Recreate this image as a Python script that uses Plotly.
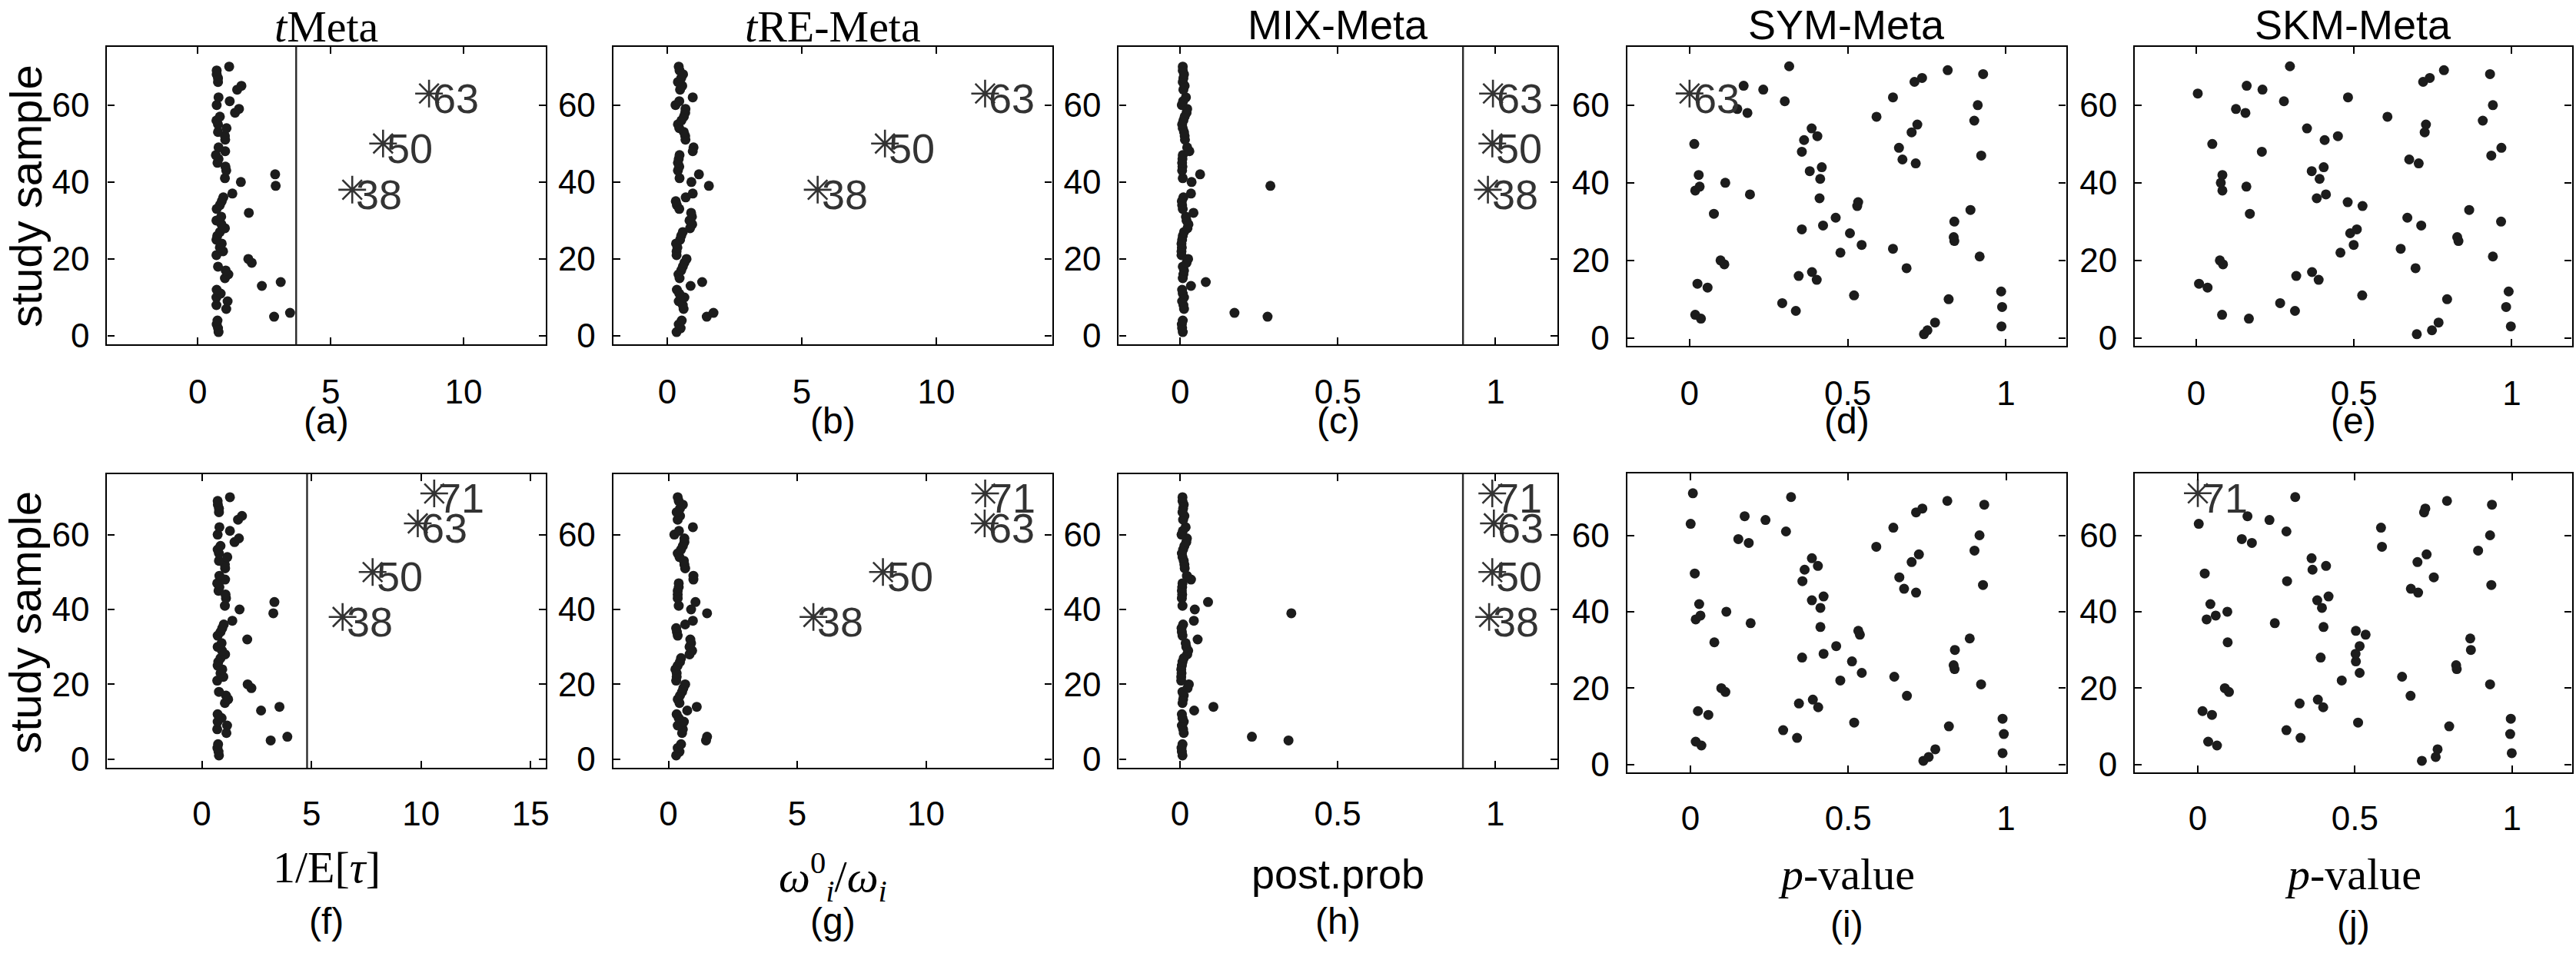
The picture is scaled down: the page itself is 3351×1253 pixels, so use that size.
import plotly.graph_objects as go

W, H = 3351, 1253

# ---------------- data ----------------
samples_top = list(range(1, 71))
samples_bot = list(range(1, 72))

tmeta_a = [0.78, 0.76, 0.71, 0.74, 2.87, 3.47, 1.07, 0.70, 1.12, 0.70,
           0.86, 0.71, 2.41, 3.12, 1.02, 1.15, 1.05, 0.76, 2.03, 1.90,
           0.70, 0.95, 0.83, 0.90, 0.70, 0.73, 0.83, 1.02, 0.89, 0.70,
           0.88, 1.92, 0.71, 0.83, 0.90, 0.96, 1.30, 5.81, 2.93, 1.62,
           1.02, 2.91, 1.07, 1.04, 0.74, 0.78, 0.68, 1.03, 0.78, 6.97,
           1.03, 1.02, 0.76, 1.08, 0.76, 0.70, 0.83, 1.40, 1.55, 0.71,
           1.20, 0.78, 8.70, 1.48, 1.64, 0.76, 0.76, 0.71, 0.71, 1.18]

tre_b = [0.35, 0.50, 0.43, 0.54, 1.47, 1.72, 0.61, 0.58, 0.43, 0.64,
         0.45, 0.36, 0.87, 1.30, 0.46, 0.42, 0.52, 0.58, 0.64, 0.72,
         0.35, 0.35, 0.38, 0.33, 0.48, 0.52, 0.58, 0.85, 0.93, 0.83,
         0.92, 0.89, 0.45, 0.36, 0.32, 0.69, 0.95, 5.59, 1.55, 0.90,
         0.46, 1.18, 0.40, 0.45, 0.40, 0.43, 0.46, 0.95, 0.98, 8.09,
         0.68, 0.67, 0.62, 0.45, 0.40, 0.53, 0.62, 0.67, 0.68, 0.31,
         0.45, 0.95, 11.81, 0.48, 0.56, 0.40, 0.52, 0.59, 0.46, 0.43]

mix_c = [0.008, 0.006, 0.005, 0.008, 0.277, 0.172, 0.012, 0.010, 0.006, 0.012,
         0.008, 0.006, 0.034, 0.081, 0.008, 0.010, 0.012, 0.008, 0.020, 0.025,
         0.004, 0.004, 0.005, 0.004, 0.006, 0.008, 0.012, 0.023, 0.026, 0.020,
         0.018, 0.042, 0.008, 0.006, 0.005, 0.010, 0.034, 0.976, 0.286, 0.036,
         0.008, 0.063, 0.006, 0.007, 0.006, 0.007, 0.008, 0.029, 0.022, 0.990,
         0.015, 0.014, 0.012, 0.008, 0.006, 0.010, 0.014, 0.020, 0.022, 0.005,
         0.009, 0.018, 0.992, 0.010, 0.014, 0.008, 0.010, 0.012, 0.008, 0.008]

sym_d = [0.741, 0.752, 0.986, 0.776, 0.036, 0.018, 0.336, 0.988, 0.293, 0.819,
         0.520, 0.985, 0.057, 0.025, 0.402, 0.345, 0.387, 0.686, 0.110, 0.098,
         0.917, 0.477, 0.643, 0.544, 0.837, 0.835, 0.507, 0.355, 0.422, 0.837,
         0.462, 0.077, 0.888, 0.530, 0.533, 0.411, 0.191, 0.018, 0.032, 0.113,
         0.413, 0.029, 0.380, 0.418, 0.715, 0.673, 0.922, 0.355, 0.662, 0.015,
         0.362, 0.404, 0.702, 0.386, 0.720, 0.900, 0.591, 0.183, 0.151, 0.911,
         0.301, 0.643, 0.000, 0.233, 0.171, 0.711, 0.735, 0.928, 0.816, 0.315]

skm_e = [0.699, 0.747, 0.997, 0.768, 0.167, 0.082, 0.313, 0.982, 0.266, 0.795,
         0.526, 0.990, 0.036, 0.009, 0.388, 0.317, 0.367, 0.695, 0.085, 0.075,
         0.940, 0.457, 0.648, 0.499, 0.831, 0.827, 0.488, 0.509, 0.713, 0.966,
         0.669, 0.170, 0.865, 0.527, 0.480, 0.382, 0.411, 0.083, 0.159, 0.078,
         0.391, 0.083, 0.366, 0.404, 0.705, 0.675, 0.935, 0.208, 0.967, 0.051,
         0.407, 0.449, 0.724, 0.351, 0.728, 0.908, 0.606, 0.156, 0.126, 0.940,
         0.278, 0.481, 0.005, 0.210, 0.160, 0.719, 0.740, 0.931, 0.785, 0.297]

tmeta_f = [0.78, 0.76, 0.71, 0.74, 3.14, 3.90, 1.12, 0.70, 1.15, 0.72,
           0.90, 0.72, 2.70, 3.54, 1.05, 1.20, 1.10, 0.78, 2.26, 2.09,
           0.70, 0.98, 0.85, 0.93, 0.72, 0.75, 0.85, 1.06, 0.92, 0.72,
           0.90, 2.07, 0.72, 0.85, 0.93, 1.00, 1.39, 6.42, 3.26, 1.72,
           1.05, 3.31, 1.10, 1.08, 0.76, 0.80, 0.70, 1.06, 0.80, 7.79,
           1.06, 1.05, 0.78, 1.16, 0.78, 0.72, 0.85, 1.49, 1.69, 0.72,
           1.28, 0.80, 9.85, 1.65, 1.83, 0.78, 0.78, 0.73, 0.72, 1.28,
           10.60]

tre_g = [0.30, 0.43, 0.36, 0.49, 1.46, 1.50, 0.53, 0.56, 0.36, 0.60,
         0.40, 0.32, 0.73, 1.10, 0.43, 0.36, 0.45, 0.53, 0.58, 0.65,
         0.30, 0.32, 0.32, 0.27, 0.36, 0.45, 0.49, 0.82, 0.92, 0.82,
         0.88, 0.85, 0.36, 0.33, 0.30, 0.65, 0.95, 5.63, 1.50, 0.88,
         0.40, 1.05, 0.36, 0.36, 0.36, 0.40, 0.40, 0.97, 0.97, 8.33,
         0.65, 0.62, 0.60, 0.43, 0.36, 0.49, 0.56, 0.62, 0.62, 0.23,
         0.41, 0.95, 12.28, 0.36, 0.45, 0.32, 0.45, 0.56, 0.40, 0.36,
         12.30]

mix_h = [0.008, 0.006, 0.005, 0.008, 0.344, 0.228, 0.012, 0.010, 0.006, 0.012,
         0.008, 0.006, 0.045, 0.106, 0.008, 0.010, 0.012, 0.008, 0.024, 0.028,
         0.004, 0.004, 0.005, 0.004, 0.006, 0.008, 0.012, 0.023, 0.026, 0.020,
         0.018, 0.056, 0.008, 0.006, 0.005, 0.010, 0.044, 0.980, 0.353, 0.047,
         0.008, 0.089, 0.006, 0.007, 0.006, 0.007, 0.008, 0.035, 0.022, 0.990,
         0.015, 0.014, 0.012, 0.008, 0.006, 0.010, 0.014, 0.020, 0.022, 0.005,
         0.009, 0.018, 0.995, 0.010, 0.014, 0.008, 0.010, 0.012, 0.008, 0.008,
         0.990]

sym_i = [0.738, 0.755, 0.989, 0.776, 0.035, 0.017, 0.338, 0.993, 0.294, 0.819,
         0.519, 0.989, 0.057, 0.024, 0.405, 0.344, 0.388, 0.686, 0.111, 0.098,
         0.921, 0.475, 0.646, 0.543, 0.837, 0.834, 0.512, 0.354, 0.422, 0.838,
         0.462, 0.076, 0.885, 0.537, 0.532, 0.412, 0.191, 0.017, 0.032, 0.114,
         0.412, 0.028, 0.385, 0.422, 0.715, 0.677, 0.927, 0.355, 0.662, 0.014,
         0.362, 0.404, 0.701, 0.385, 0.724, 0.900, 0.589, 0.185, 0.152, 0.916,
         0.303, 0.643, 0.001, 0.238, 0.172, 0.715, 0.735, 0.931, 0.814, 0.319,
         0.008]

skm_j = [0.713, 0.757, 0.999, 0.763, 0.061, 0.033, 0.327, 0.994, 0.282, 0.800,
         0.510, 0.996, 0.045, 0.015, 0.399, 0.324, 0.382, 0.677, 0.099, 0.086,
         0.930, 0.458, 0.650, 0.515, 0.824, 0.822, 0.503, 0.391, 0.502, 0.869,
         0.515, 0.095, 0.867, 0.534, 0.503, 0.400, 0.245, 0.028, 0.057, 0.094,
         0.395, 0.040, 0.380, 0.416, 0.701, 0.678, 0.934, 0.284, 0.751, 0.022,
         0.365, 0.408, 0.699, 0.362, 0.728, 0.892, 0.586, 0.172, 0.140, 0.930,
         0.282, 0.583, 0.003, 0.228, 0.158, 0.720, 0.724, 0.936, 0.793, 0.310,
         0.000]

outliers_a = [38, 50, 63]
outliers_b = [38, 50, 63]
outliers_c = [38, 50, 63]
outliers_d = [63]
outliers_e = []
outliers_f = [38, 50, 63, 71]
outliers_g = [38, 50, 63, 71]
outliers_h = [38, 50, 63, 71]
outliers_i = []
outliers_j = [71]

threshold_a = 3.70
threshold_c = 0.897
threshold_f = 4.80
threshold_h = 0.897

titles = ["<i>t</i>Meta", "<i>t</i>RE-Meta", "MIX-Meta", "SYM-Meta", "SKM-Meta"]
title_serif = [True, True, False, False, False]
panel_tags = ["(a)", "(b)", "(c)", "(d)", "(e)", "(f)", "(g)", "(h)", "(i)", "(j)"]
xlabels = ["1/E[<i>τ</i>]", "<i>ω</i><sup>0</sup><sub><i>i</i></sub>/<i>ω</i><sub><i>i</i></sub>",
           "post.prob", "<i>p</i>-value", "<i>p</i>-value"]
xlabel_serif = [True, True, False, True, True]
ytick_vals = [0, 20, 40, 60]
xtick_big = [0, 5, 10]
xtick_big15 = [0, 5, 10, 15]
xtick_unit = [0, 0.5, 1]
xtick_unit_text = ["0", "0.5", "1"]

# ---------------- layout geometry (pixels) ----------------
SANS = "Liberation Sans, Arial, Helvetica, sans-serif"
SERIF = "Liberation Serif, Times New Roman, DejaVu Serif, serif"
DOT = "#1c1c1c"
STAR = "#333333"

col_left = [139.6, 798.8, 1457.1, 2119.3, 2780.6]
col_w = 571.5
row_top = [[61.3] * 5, [623.7, 623.7, 623.7, 622.9, 622.9]]
row_bot = [[453.5, 453.5, 453.5, 455.5, 455.5], [1010.2, 1010.2, 1010.2, 1016.5, 1016.5]]
tag_ys = [[553.6] * 5, [1212, 1212, 1212, 1216, 1216]]
xlabel_ys = [1141, 1154, 1150, 1150, 1150]

panels = [
    dict(vals=tmeta_a, ids=samples_top, out=outliers_a, xr=[-3.41, 13.1], yr=[-2.27, 75.2], tv=xtick_big, tt=None, thr=threshold_a),
    dict(vals=tre_b, ids=samples_top, out=outliers_b, xr=[-2.0, 14.3], yr=[-2.27, 75.2], tv=xtick_big, tt=None, thr=None),
    dict(vals=mix_c, ids=samples_top, out=outliers_c, xr=[-0.195, 1.197], yr=[-2.27, 75.2], tv=xtick_unit, tt=xtick_unit_text, thr=threshold_c),
    dict(vals=sym_d, ids=samples_top, out=outliers_d, xr=[-0.197, 1.19], yr=[-2.09, 75.08], tv=xtick_unit, tt=xtick_unit_text, thr=None),
    dict(vals=skm_e, ids=samples_top, out=outliers_e, xr=[-0.194, 1.19], yr=[-2.09, 75.08], tv=xtick_unit, tt=xtick_unit_text, thr=None),
    dict(vals=tmeta_f, ids=samples_bot, out=outliers_f, xr=[-4.32, 15.7], yr=[-2.28, 76.2], tv=xtick_big15, tt=None, thr=threshold_f),
    dict(vals=tre_g, ids=samples_bot, out=outliers_g, xr=[-2.14, 14.9], yr=[-2.28, 76.2], tv=xtick_big, tt=None, thr=None),
    dict(vals=mix_h, ids=samples_bot, out=outliers_h, xr=[-0.194, 1.197], yr=[-2.28, 76.2], tv=xtick_unit, tt=xtick_unit_text, thr=threshold_h),
    dict(vals=sym_i, ids=samples_bot, out=outliers_i, xr=[-0.2, 1.19], yr=[-2.07, 76.2], tv=xtick_unit, tt=xtick_unit_text, thr=None),
    dict(vals=skm_j, ids=samples_bot, out=outliers_j, xr=[-0.2, 1.19], yr=[-2.07, 76.2], tv=xtick_unit, tt=xtick_unit_text, thr=None),
]

fig = go.Figure()
annotations = []
shapes = []
layout = {}

for k, p in enumerate(panels):
    r, c = divmod(k, 5)
    xn = "x" if k == 0 else f"x{k+1}"
    yn = "y" if k == 0 else f"y{k+1}"
    xa = "xaxis" if k == 0 else f"xaxis{k+1}"
    ya = "yaxis" if k == 0 else f"yaxis{k+1}"
    left = col_left[c]
    right = min(left + col_w, W - 1.5)
    top = row_top[r][c]
    bot = row_bot[r][c]
    axis_common = dict(showline=True, linecolor="black", linewidth=2.4, mirror="ticks",
                       ticks="inside", ticklen=9, tickwidth=2.2, tickcolor="black",
                       showgrid=False, zeroline=False,
                       tickfont=dict(family=SANS, size=44, color="black"))
    layout[xa] = dict(axis_common, domain=[left / W, right / W], range=p["xr"], anchor=yn,
                      tickmode="array", tickvals=p["tv"],
                      ticktext=p["tt"] if p["tt"] else [str(v) for v in p["tv"]],
                      ticklabelstandoff=22 if r == 0 else 20)
    layout[ya] = dict(axis_common, domain=[1 - bot / H, 1 - top / H], range=p["yr"], anchor=xn,
                      tickmode="array", tickvals=ytick_vals, ticklabelstandoff=12)

    dx = [v for v, i in zip(p["vals"], p["ids"]) if i not in p["out"]]
    dy = [i for i in p["ids"] if i not in p["out"]]
    fig.add_trace(go.Scatter(x=dx, y=dy, mode="markers", xaxis=xn, yaxis=yn,
                             marker=dict(size=13, color=DOT), showlegend=False,
                             cliponaxis=False))
    if p["out"]:
        ox = [p["vals"][p["ids"].index(i)] for i in p["out"]]
        oy = list(p["out"])
        fig.add_trace(go.Scatter(x=ox, y=oy, mode="markers", xaxis=xn, yaxis=yn,
                                 marker=dict(symbol="asterisk-open", size=30,
                                             line=dict(width=2.6, color=STAR), color=STAR),
                                 showlegend=False, cliponaxis=False))
        for xv, yv in zip(ox, oy):
            annotations.append(dict(x=xv, y=yv, xref=xn, yref=yn, text=str(yv),
                                    showarrow=False, xanchor="left", yanchor="middle",
                                    xshift=3, yshift=-6,
                                    font=dict(family=SANS, size=54, color=STAR)))
    if p["thr"] is not None:
        shapes.append(dict(type="line", xref=xn, yref=f"{yn} domain", x0=p["thr"], x1=p["thr"],
                           y0=0, y1=1, line=dict(color="#2a2a2a", width=2.4)))

    cx = (left + right) / 2 / W
    annotations.append(dict(x=cx, y=1 - tag_ys[r][c] / H, xref="paper", yref="paper", text=panel_tags[k],
                            showarrow=False, xanchor="center", yanchor="middle",
                            font=dict(family=SANS, size=48, color="black")))
    if r == 0:
        annotations.append(dict(x=cx, y=1, xref="paper", yref="paper", text=titles[c],
                                showarrow=False, xanchor="center", yanchor="top",
                                font=dict(family=SERIF if title_serif[c] else SANS,
                                          size=58 if title_serif[c] else 54, color="black")))
    else:
        annotations.append(dict(x=cx, y=1 - xlabel_ys[c] / H, xref="paper", yref="paper", text=xlabels[c],
                                showarrow=False, xanchor="center", yanchor="middle",
                                font=dict(family=SERIF if xlabel_serif[c] else SANS,
                                          size=58 if xlabel_serif[c] else 54, color="black")))

for yc in (258, 819):
    annotations.append(dict(x=33 / W, y=1 - yc / H, xref="paper", yref="paper", text="study sample",
                            showarrow=False, textangle=-90, xanchor="center", yanchor="middle",
                            font=dict(family=SANS, size=58, color="black")))

fig.update_layout(width=W, height=H, margin=dict(l=0, r=0, t=0, b=0),
                  paper_bgcolor="white", plot_bgcolor="white",
                  annotations=annotations, shapes=shapes, showlegend=False, **layout)

fig.write_html("out.html")
